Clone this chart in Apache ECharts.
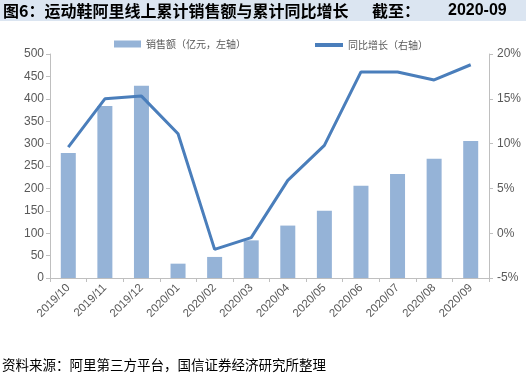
<!DOCTYPE html>
<html>
<head>
<meta charset="utf-8">
<script src="https://cdn.jsdelivr.net/npm/echarts@6/dist/echarts.min.js"></script>
<style>
html,body{margin:0;padding:0;background:#fff;}
#c{width:526px;height:376px;}
</style>
</head>
<body>
<div id="c"></div>
<script>
const categories = ['2019/10','2019/11','2019/12','2020/01','2020/02','2020/03','2020/04','2020/05','2020/06','2020/07','2020/08','2020/09'];
const salesValues = [279, 384, 429, 32, 47, 84, 117, 150, 206, 232, 266, 306];
const yoyValues = [9.6, 15.0, 15.3, 11.1, -1.8, -0.5, 5.9, 9.8, 18.0, 18.0, 17.1, 18.8];
const leftTicks = {min: 0, max: 500, interval: 50};
const rightTicks = {min: -5, max: 20, interval: 5};
const seriesNames = ['销售额（亿元，左轴）', '同比增长（右轴）'];

const chart = echarts.init(document.getElementById('c'), null, {renderer: 'canvas'});
const axisGray = '#bfbfbf';
const labelGray = '#595959';
const cjk = '"Noto Sans CJK SC", sans-serif';
chart.setOption({
  animation: false,
  backgroundColor: '#ffffff',
  graphic: [
    {type: 'rect', shape: {x: 0, y: 0, width: 526, height: 21}, style: {fill: '#dbe5f1'}, z: -1},
    {type: 'text', left: 3, top: 3, style: {text: '图6：运动鞋阿里线上累计销售额与累计同比增长', font: 'bold 16px ' + cjk, fill: '#000'}},
    {type: 'text', left: 372, top: 3, style: {text: '截至：', font: 'bold 16px ' + cjk, fill: '#000'}},
    {type: 'text', left: 448, top: 3, style: {text: '2020-09', font: 'bold 16px "Liberation Sans", Arial, sans-serif', fill: '#000'}},
    {type: 'text', left: 2, top: 358, style: {text: '资料来源：阿里第三方平台，国信证券经济研究所整理', font: '13.5px ' + cjk, fill: '#000'}}
  ],
  legend: [
    {data: [{name: seriesNames[0], icon: 'rect'}], left: 109, top: 34, itemWidth: 27, itemHeight: 7, itemGap: 4,
     textStyle: {fontSize: 10, color: labelGray, fontFamily: cjk}},
    {data: [{name: seriesNames[1], icon: 'rect'}], left: 310, top: 35, itemWidth: 28, itemHeight: 4, itemGap: 4,
     textStyle: {fontSize: 10, color: labelGray, fontFamily: cjk}}
  ],
  grid: {left: 50, right: 37, top: 54, bottom: 98, containLabel: false},
  xAxis: {
    type: 'category', data: categories, boundaryGap: true,
    axisLine: {lineStyle: {color: axisGray}},
    axisTick: {show: true, alignWithLabel: false, lineStyle: {color: axisGray}, length: 4},
    axisLabel: {rotate: 45, fontSize: 11.5, color: labelGray, fontFamily: '"Liberation Sans", Arial, sans-serif', margin: 8, interval: 0}
  },
  yAxis: [
    {type: 'value', min: leftTicks.min, max: leftTicks.max, interval: leftTicks.interval, position: 'left',
     axisLine: {show: true, lineStyle: {color: axisGray}},
     axisTick: {show: true, length: 4, lineStyle: {color: axisGray}},
     splitLine: {show: false},
     axisLabel: {fontSize: 12, color: labelGray, fontFamily: '"Liberation Sans", Arial, sans-serif', margin: 6}},
    {type: 'value', min: rightTicks.min, max: rightTicks.max, interval: rightTicks.interval, position: 'right',
     axisLine: {show: true, lineStyle: {color: axisGray}},
     axisTick: {show: true, length: 4, lineStyle: {color: axisGray}},
     splitLine: {show: false},
     axisLabel: {fontSize: 12, color: labelGray, fontFamily: '"Liberation Sans", Arial, sans-serif', margin: 8, formatter: '{value}%'}}
  ],
  series: [
    {name: seriesNames[0], type: 'bar', yAxisIndex: 0, data: salesValues, barWidth: 15,
     itemStyle: {color: '#95b3d7'}},
    {name: seriesNames[1], type: 'line', yAxisIndex: 1, data: yoyValues, symbol: 'none',
     lineStyle: {color: '#4a7ebb', width: 3}, itemStyle: {color: '#4a7ebb'}}
  ]
});
</script>
</body>
</html>
